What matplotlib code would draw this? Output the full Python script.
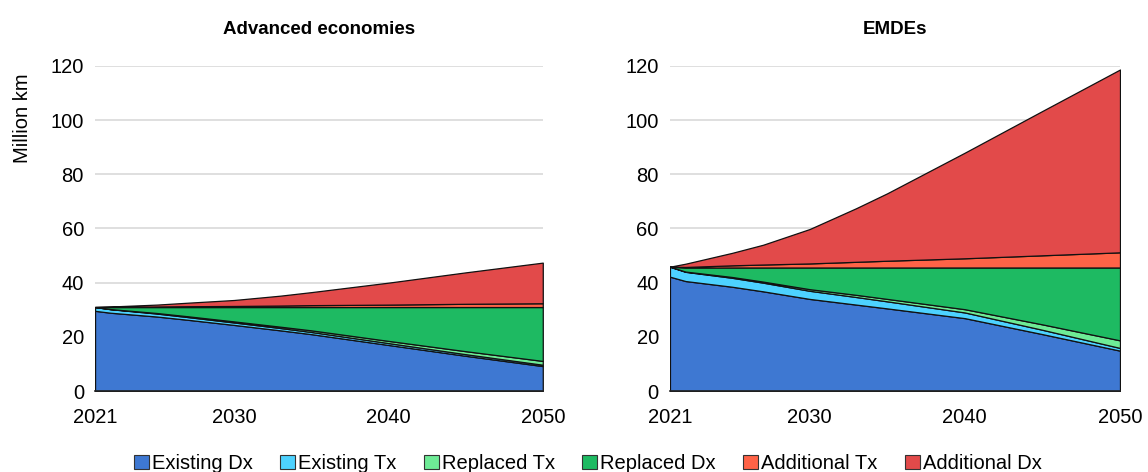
import matplotlib
matplotlib.use("Agg")
import matplotlib.pyplot as plt
from matplotlib.patches import Patch

plt.rcParams['font.family'] = ['Liberation Sans', 'DejaVu Sans']

years = [2021, 2022, 2025, 2027, 2030, 2033, 2035, 2040, 2045, 2050]
series_names = ["Existing Dx", "Existing Tx", "Replaced Tx", "Replaced Dx", "Additional Tx", "Additional Dx"]
colors = ["#3E78D2", "#4DD2FF", "#6EEB96", "#1EBA62", "#FF6347", "#E24A4A"]

# Advanced economies (million km)
adv_existing_dx = [29.6, 28.9, 27.5, 26.3, 24.4, 22.4, 21.0, 17.0, 13.0, 9.2]
adv_existing_tx = [1.4, 1.3, 1.1, 1.0, 0.9, 0.85, 0.8, 0.7, 0.6, 0.5]
adv_replaced_tx = [0.0, 0.05, 0.2, 0.3, 0.4, 0.5, 0.6, 0.8, 1.1, 1.4]
adv_replaced_dx = [0.0, 0.75, 2.2, 3.4, 5.3, 7.25, 8.6, 12.5, 16.3, 19.9]
adv_additional_tx = [0.0, 0.05, 0.2, 0.3, 0.4, 0.55, 0.7, 0.9, 1.2, 1.4]
adv_additional_dx = [0.0, 0.15, 0.7, 1.3, 2.2, 3.65, 4.8, 8.1, 11.6, 15.0]

# EMDEs (million km)
emde_existing_dx = [42.2, 40.6, 38.5, 36.8, 34.0, 31.9, 30.5, 26.9, 21.0, 14.9]
emde_existing_tx = [3.7, 3.4, 3.3, 3.2, 3.0, 2.8, 2.6, 2.1, 1.6, 1.0]
emde_replaced_tx = [0.0, 0.1, 0.3, 0.4, 0.6, 0.8, 0.9, 1.2, 2.0, 2.8]
emde_replaced_dx = [0.0, 1.5, 3.5, 5.2, 8.0, 10.1, 11.6, 15.4, 21.0, 26.9]
emde_additional_tx = [0.0, 0.2, 0.8, 1.1, 1.5, 2.1, 2.5, 3.4, 4.5, 5.6]
emde_additional_dx = [0.0, 1.2, 4.6, 7.3, 12.7, 19.8, 24.9, 39.0, 53.3, 67.5]

panels = [
    ("Advanced economies", [adv_existing_dx, adv_existing_tx, adv_replaced_tx,
                            adv_replaced_dx, adv_additional_tx, adv_additional_dx]),
    ("EMDEs", [emde_existing_dx, emde_existing_tx, emde_replaced_tx,
               emde_replaced_dx, emde_additional_tx, emde_additional_dx]),
]

fig = plt.figure(figsize=(11.48, 4.72), dpi=100)
axes_pos = [[0.0828, 0.1716, 0.390, 0.6886], [0.5836, 0.1716, 0.392, 0.6886]]

for i, (title, data) in enumerate(panels):
    ax = fig.add_axes(axes_pos[i])
    ax.stackplot(years, *data, colors=colors, edgecolor="#111111", linewidth=0.9)
    ax.set_xlim(2021, 2050)
    ax.set_ylim(0, 120)
    ax.set_yticks([0, 20, 40, 60, 80, 100, 120])
    ax.set_xticks([2021, 2030, 2040, 2050])
    ax.grid(axis='y', color="#D9D9D9", linewidth=1.2)
    ax.set_axisbelow(True)
    for s in ['left', 'right', 'top']:
        ax.spines[s].set_visible(False)
    ax.spines['bottom'].set_color("#222222")
    ax.spines['bottom'].set_linewidth(1.2)
    ax.tick_params(axis='both', length=0, labelsize=14.5, colors="#000000")
    ax.tick_params(axis='x', pad=12)
    ax.tick_params(axis='y', pad=8)
    ax.set_title(title, fontsize=13.5, fontweight='bold', pad=23)
    if i == 0:
        ax.set_ylabel("Million km", fontsize=14.5)
        ax.yaxis.set_label_coords(-0.14, 0.84)

handles = [Patch(facecolor=c, edgecolor="#333333", linewidth=0.8) for c in colors]
fig.legend(handles, series_names, loc='center', ncol=6, bbox_to_anchor=(0.512, 0.018),
           frameon=False, fontsize=14.5, handlelength=0.75, handleheight=0.75,
           handletextpad=0.15, columnspacing=1.35)

fig.savefig("out.png", dpi=100)
